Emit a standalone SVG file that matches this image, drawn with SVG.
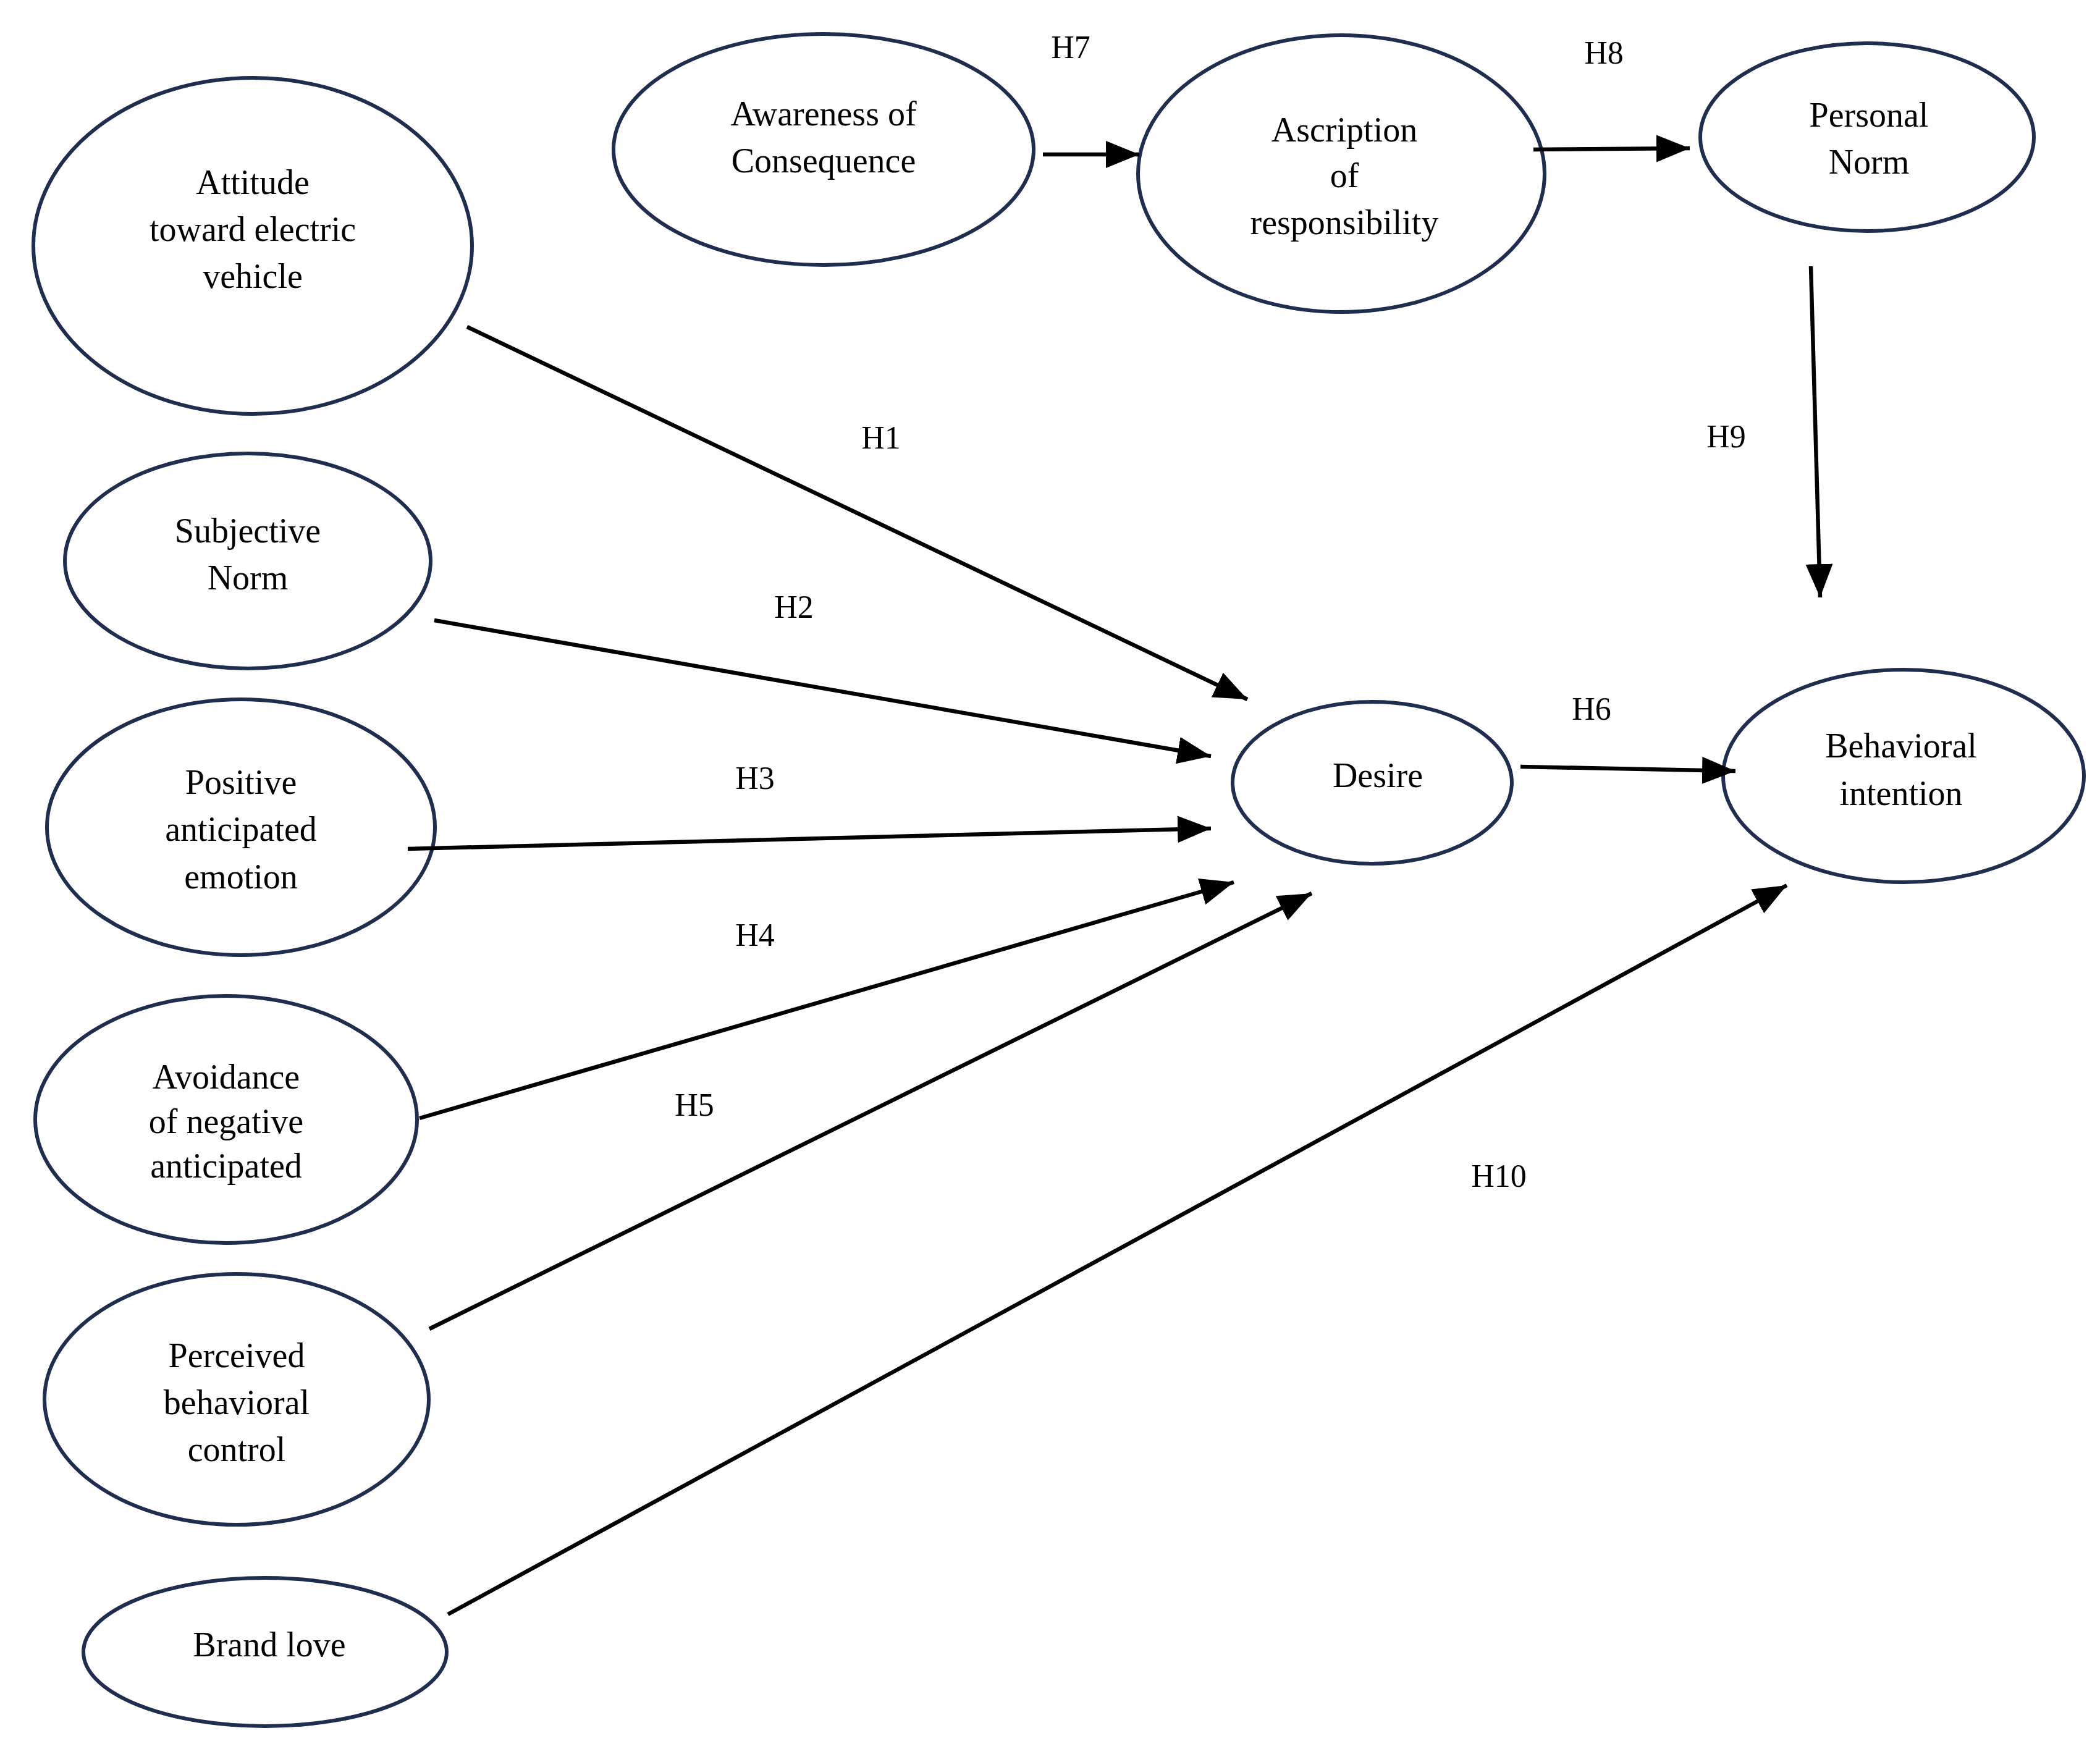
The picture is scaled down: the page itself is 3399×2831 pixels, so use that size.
<svg xmlns="http://www.w3.org/2000/svg" width="3399" height="2831" viewBox="0 0 3399 2831">
<style>
.n{fill:#fff;stroke:#1f2d4e;stroke-width:6}
.t{font-family:"Liberation Serif",serif;font-size:56px;fill:#000;text-anchor:middle}
.l{font-family:"Liberation Serif",serif;font-size:52px;fill:#000;text-anchor:middle}
.c{stroke:#000;stroke-width:6.5;fill:none;marker-end:url(#a)}
</style>
<defs><marker id="a" markerUnits="userSpaceOnUse" markerWidth="60" markerHeight="50" refX="54" refY="22" orient="auto"><path d="M0,0 L54,22 L0,44 Z" fill="#000"/></marker></defs>
<rect width="3399" height="2831" fill="#fff"/>
<g id="n-attitude"><ellipse class="n" cx="409" cy="398" rx="355" ry="272"/><text class="t" x="409" y="314">Attitude</text><text class="t" x="409" y="390">toward electric</text><text class="t" x="409" y="466">vehicle</text></g>
<g id="n-subjective"><ellipse class="n" cx="401" cy="908" rx="296" ry="174"/><text class="t" x="401" y="878">Subjective</text><text class="t" x="401" y="954">Norm</text></g>
<g id="n-positive"><ellipse class="n" cx="390" cy="1339" rx="314" ry="207"/><text class="t" x="390" y="1285">Positive</text><text class="t" x="390" y="1361">anticipated</text><text class="t" x="390" y="1438">emotion</text></g>
<g id="n-avoidance"><ellipse class="n" cx="366" cy="1812" rx="309" ry="200"/><text class="t" x="366" y="1762">Avoidance</text><text class="t" x="366" y="1834">of negative</text><text class="t" x="366" y="1906">anticipated</text></g>
<g id="n-perceived"><ellipse class="n" cx="383" cy="2265" rx="311" ry="203"/><text class="t" x="383" y="2213">Perceived</text><text class="t" x="383" y="2289">behavioral</text><text class="t" x="383" y="2365">control</text></g>
<g id="n-brand"><ellipse class="n" cx="429" cy="2674" rx="294" ry="120"/><text class="t" x="436" y="2681">Brand love</text></g>
<g id="n-awareness"><ellipse class="n" cx="1333" cy="242" rx="340" ry="187"/><text class="t" x="1333" y="203">Awareness of</text><text class="t" x="1333" y="279">Consequence</text></g>
<g id="n-ascription"><ellipse class="n" cx="2171" cy="281" rx="329" ry="224"/><text class="t" x="2176" y="229">Ascription</text><text class="t" x="2176" y="303">of</text><text class="t" x="2176" y="379">responsibility</text></g>
<g id="n-personal"><ellipse class="n" cx="3022" cy="222" rx="270" ry="152"/><text class="t" x="3025" y="205">Personal</text><text class="t" x="3025" y="281">Norm</text></g>
<g id="n-desire"><ellipse class="n" cx="2221" cy="1267" rx="226" ry="131"/><text class="t" x="2230" y="1274">Desire</text></g>
<g id="n-behavioral"><ellipse class="n" cx="3081" cy="1256" rx="292" ry="172"/><text class="t" x="3077" y="1226">Behavioral</text><text class="t" x="3077" y="1303">intention</text></g>
<g id="connectors">
<line class="c" x1="756" y1="529" x2="2019" y2="1132"/>
<line class="c" x1="703" y1="1004" x2="1960" y2="1224"/>
<line class="c" x1="660" y1="1374" x2="1960" y2="1341"/>
<line class="c" x1="679" y1="1810" x2="1997" y2="1428"/>
<line class="c" x1="695" y1="2151" x2="2123" y2="1446"/>
<line class="c" x1="2461" y1="1241" x2="2809" y2="1248"/>
<line class="c" x1="1688" y1="250" x2="1844" y2="250"/>
<line class="c" x1="2482" y1="242" x2="2735" y2="240"/>
<line class="c" x1="2931" y1="431" x2="2946" y2="967"/>
<line class="c" x1="725" y1="2613" x2="2892" y2="1433"/>
<text class="l" x="1733" y="94">H7</text>
<text class="l" x="2596" y="103">H8</text>
<text class="l" x="1426" y="726">H1</text>
<text class="l" x="1285" y="1000">H2</text>
<text class="l" x="1222" y="1277">H3</text>
<text class="l" x="1222" y="1531">H4</text>
<text class="l" x="1124" y="1806">H5</text>
<text class="l" x="2426" y="1921">H10</text>
<text class="l" x="2794" y="724">H9</text>
<text class="l" x="2576" y="1165">H6</text>
</g>
</svg>
